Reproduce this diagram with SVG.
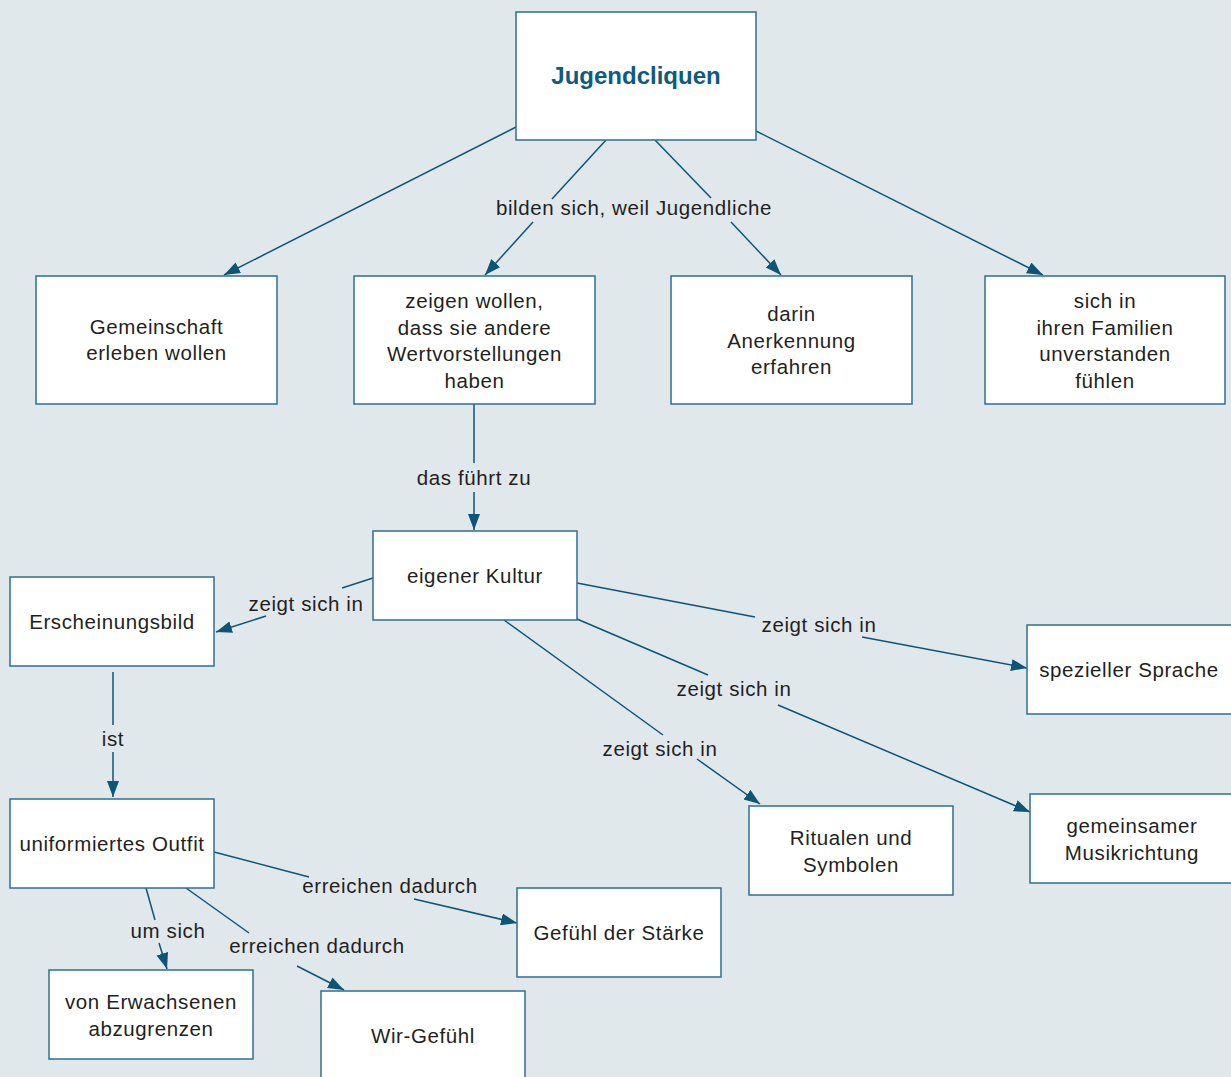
<svg xmlns="http://www.w3.org/2000/svg" width="1231" height="1077" viewBox="0 0 1231 1077">
<style>
.bg{fill:#e1e8ec}
.box{fill:#ffffff;stroke:#2f6f90;stroke-width:1.5}
.t{font-family:"Liberation Sans",Arial,sans-serif;font-size:20.5px;letter-spacing:0.6px;fill:#231f20;text-anchor:middle}
.title{font-family:"Liberation Sans",Arial,sans-serif;font-size:24px;font-weight:bold;fill:#0e5a80;text-anchor:middle}
.c path{fill:none;stroke:#0d5577;stroke-width:1.5}
</style>
<defs>
<marker id="ah" markerUnits="userSpaceOnUse" markerWidth="18" markerHeight="14" refX="16" refY="6" orient="auto">
<path d="M0,0 L16,6 L0,12 z" fill="#0d5577"/>
</marker>
</defs>
<rect class="bg" x="0" y="0" width="1231" height="1077"/>
<g class="c" id="connectors">
<path d="M516,127 L224,275" marker-end="url(#ah)"/>
<path d="M606,140 L552,199"/>
<path d="M533,222 L485,275" marker-end="url(#ah)"/>
<path d="M655,140 L711,198"/>
<path d="M731,222 L781,275" marker-end="url(#ah)"/>
<path d="M756,131 L1043,275" marker-end="url(#ah)"/>
<path d="M474,404 L474,463"/>
<path d="M474,492 L474,530" marker-end="url(#ah)"/>
<path d="M373,578 L342,588"/>
<path d="M266,616 L216,632" marker-end="url(#ah)"/>
<path d="M577,583 L755,617"/>
<path d="M862,637 L1027,668" marker-end="url(#ah)"/>
<path d="M577,619 L708,675"/>
<path d="M778,705 L1030,812" marker-end="url(#ah)"/>
<path d="M504,620 L663,735"/>
<path d="M697,759 L760,804" marker-end="url(#ah)"/>
<path d="M113,672 L113,725"/>
<path d="M113,752 L113,797" marker-end="url(#ah)"/>
<path d="M214,852 L309,877"/>
<path d="M414,899 L517,923" marker-end="url(#ah)"/>
<path d="M186,888 L249,933"/>
<path d="M297,966 L344,990" marker-end="url(#ah)"/>
<path d="M146,888 L155,920"/>
<path d="M159,943 L167,969" marker-end="url(#ah)"/>
</g>
<g id="labels">
<text class="t" x="634" y="215">bilden sich, weil Jugendliche</text>
<text class="t" x="474" y="485">das führt zu</text>
<text class="t" x="306" y="611">zeigt sich in</text>
<text class="t" x="819" y="632">zeigt sich in</text>
<text class="t" x="734" y="696">zeigt sich in</text>
<text class="t" x="660" y="756">zeigt sich in</text>
<text class="t" x="113" y="746">ist</text>
<text class="t" x="390" y="893">erreichen dadurch</text>
<text class="t" x="317" y="953">erreichen dadurch</text>
<text class="t" x="168" y="938">um sich</text>
</g>
<g id="n-jugendcliquen">
<rect class="box" x="516" y="12" width="240" height="128"/>
<text class="title" x="636" y="84">Jugendcliquen</text>
</g>
<g id="n-gemeinschaft">
<rect class="box" x="36" y="276" width="241" height="128"/>
<text class="t" x="156.5" y="334">Gemeinschaft</text>
<text class="t" x="156.5" y="360">erleben wollen</text>
</g>
<g id="n-zeigen">
<rect class="box" x="354" y="276" width="241" height="128"/>
<text class="t" x="474.5" y="308">zeigen wollen,</text>
<text class="t" x="474.5" y="335">dass sie andere</text>
<text class="t" x="474.5" y="361">Wertvorstellungen</text>
<text class="t" x="474.5" y="388">haben</text>
</g>
<g id="n-darin">
<rect class="box" x="671" y="276" width="241" height="128"/>
<text class="t" x="791.5" y="321">darin</text>
<text class="t" x="791.5" y="348">Anerkennung</text>
<text class="t" x="791.5" y="374">erfahren</text>
</g>
<g id="n-familien">
<rect class="box" x="985" y="276" width="240" height="128"/>
<text class="t" x="1105" y="308">sich in</text>
<text class="t" x="1105" y="335">ihren Familien</text>
<text class="t" x="1105" y="361">unverstanden</text>
<text class="t" x="1105" y="388">fühlen</text>
</g>
<g id="n-kultur">
<rect class="box" x="373" y="531" width="204" height="89"/>
<text class="t" x="475" y="583">eigener Kultur</text>
</g>
<g id="n-erscheinungsbild">
<rect class="box" x="10" y="577" width="204" height="89"/>
<text class="t" x="112" y="629">Erscheinungsbild</text>
</g>
<g id="n-sprache">
<rect class="box" x="1027" y="625" width="210" height="89"/>
<text class="t" x="1129" y="677">spezieller Sprache</text>
</g>
<g id="n-outfit">
<rect class="box" x="10" y="799" width="204" height="89"/>
<text class="t" x="112" y="851">uniformiertes Outfit</text>
</g>
<g id="n-ritualen">
<rect class="box" x="749" y="806" width="204" height="89"/>
<text class="t" x="851" y="845">Ritualen und</text>
<text class="t" x="851" y="872">Symbolen</text>
</g>
<g id="n-musik">
<rect class="box" x="1030" y="794" width="210" height="89"/>
<text class="t" x="1132" y="833">gemeinsamer</text>
<text class="t" x="1132" y="860">Musikrichtung</text>
</g>
<g id="n-staerke">
<rect class="box" x="517" y="888" width="204" height="89"/>
<text class="t" x="619" y="940">Gefühl der Stärke</text>
</g>
<g id="n-erwachsene">
<rect class="box" x="49" y="970" width="204" height="89"/>
<text class="t" x="151" y="1009">von Erwachsenen</text>
<text class="t" x="151" y="1036">abzugrenzen</text>
</g>
<g id="n-wir">
<rect class="box" x="321" y="991" width="204" height="95"/>
<text class="t" x="423" y="1043">Wir-Gefühl</text>
</g>
</svg>
